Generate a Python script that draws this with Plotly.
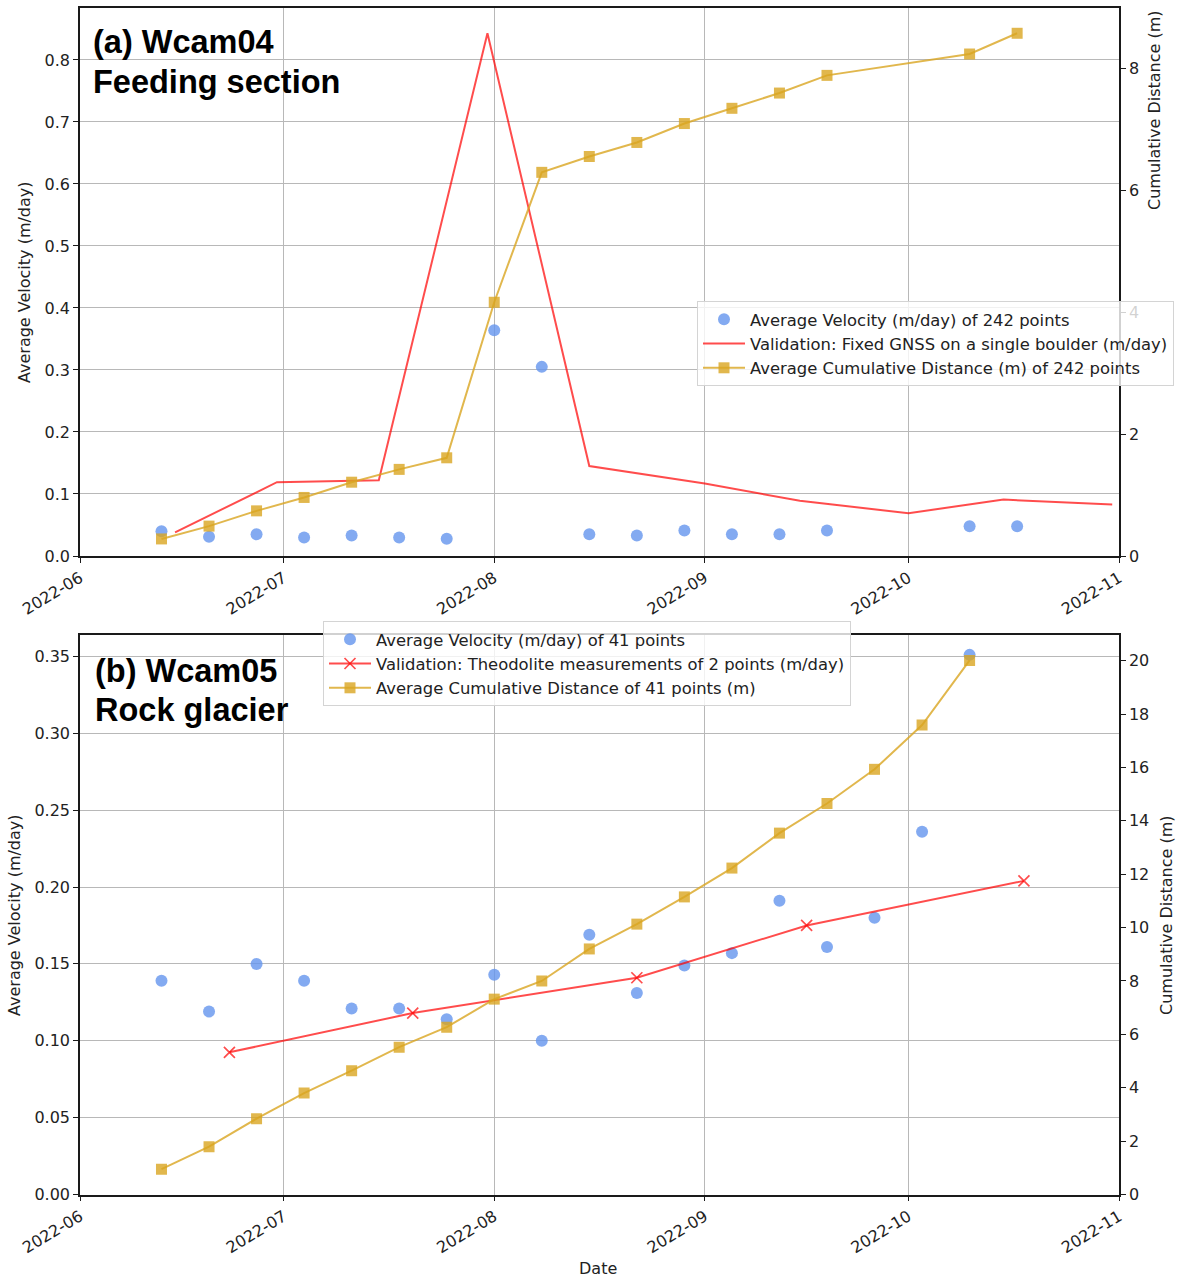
import plotly.graph_objects as go
from plotly.subplots import make_subplots

# ---------------- (a) Wcam04 feeding section ----------------
dates_a = ["2022-06-13", "2022-06-20", "2022-06-27", "2022-07-04", "2022-07-11",
           "2022-07-18", "2022-07-25", "2022-08-01", "2022-08-08", "2022-08-15",
           "2022-08-22", "2022-08-29", "2022-09-05", "2022-09-12", "2022-09-19",
           "2022-10-10", "2022-10-17"]
vel_a = [0.040, 0.031, 0.035, 0.030, 0.033, 0.030, 0.028, 0.364, 0.305, 0.035,
         0.033, 0.041, 0.035, 0.035, 0.041, 0.048, 0.048]
cum_a = [0.28, 0.49, 0.74, 0.96, 1.21, 1.42, 1.61, 4.16, 6.29, 6.55,
         6.78, 7.09, 7.34, 7.59, 7.88, 8.23, 8.57]
gnss_dates = ["2022-06-15", "2022-06-30", "2022-07-15", "2022-07-31", "2022-08-15",
              "2022-09-01", "2022-09-15", "2022-10-01", "2022-10-15", "2022-10-31"]
gnss_vel = [0.038, 0.119, 0.122, 0.843, 0.145, 0.117, 0.089, 0.069, 0.091, 0.083]

# ---------------- (b) Wcam05 rock glacier ----------------
dates_b = ["2022-06-13", "2022-06-20", "2022-06-27", "2022-07-04", "2022-07-11",
           "2022-07-18", "2022-07-25", "2022-08-01", "2022-08-08", "2022-08-15",
           "2022-08-22", "2022-08-29", "2022-09-05", "2022-09-12", "2022-09-19",
           "2022-09-26", "2022-10-03", "2022-10-10"]
vel_b = [0.139, 0.119, 0.150, 0.139, 0.121, 0.121, 0.114, 0.143, 0.100, 0.169,
         0.131, 0.149, 0.157, 0.191, 0.161, 0.180, 0.236, 0.351]
cum_b = [0.95, 1.79, 2.84, 3.80, 4.64, 5.52, 6.27, 7.32, 8.00, 9.20,
         10.13, 11.15, 12.23, 13.54, 14.65, 15.93, 17.59, 20.01]
theo_dates = ["2022-06-23", "2022-07-20", "2022-08-22", "2022-09-16", "2022-10-18"]
theo_vel = [0.0925, 0.118, 0.141, 0.175, 0.204]

month_ticks = ["2022-06-01", "2022-07-01", "2022-08-01", "2022-09-01",
               "2022-10-01", "2022-11-01"]

W, H = 1188, 1279
BLUE = "rgba(100,149,237,0.8)"
RED = "rgba(255,0,0,0.7)"
GOLD = "rgba(218,165,32,0.8)"
FONT = "DejaVu Sans"
GRID = "#b8b8b8"
SPINE = "#1a1a1a"
TICK_SIZE = 16


def auto_range(*series):
    vals = [v for s in series for v in s]
    lo, hi = min(vals), max(vals)
    return [0, hi + 0.05 * (hi - lo)]


def px_x(px):
    return px / W


def px_y(py):
    return 1 - py / H


fig = make_subplots(rows=2, cols=1,
                    specs=[[{"secondary_y": True}], [{"secondary_y": True}]])

# panel (a)
fig.add_trace(go.Scatter(x=dates_a, y=vel_a, mode="markers",
                         marker=dict(color=BLUE, size=12),
                         name="Average Velocity (m/day) of 242 points",
                         legend="legend"), row=1, col=1, secondary_y=False)
fig.add_trace(go.Scatter(x=gnss_dates, y=gnss_vel, mode="lines",
                         line=dict(color=RED, width=2),
                         name="Validation: Fixed GNSS on a single boulder (m/day)",
                         legend="legend"), row=1, col=1, secondary_y=False)
fig.add_trace(go.Scatter(x=dates_a, y=cum_a, mode="lines+markers",
                         line=dict(color=GOLD, width=2),
                         marker=dict(color=GOLD, size=11, symbol="square"),
                         name="Average Cumulative Distance (m) of 242 points",
                         legend="legend"), row=1, col=1, secondary_y=True)

# panel (b)
fig.add_trace(go.Scatter(x=dates_b, y=vel_b, mode="markers",
                         marker=dict(color=BLUE, size=12),
                         name="Average Velocity (m/day) of 41 points",
                         legend="legend2"), row=2, col=1, secondary_y=False)
fig.add_trace(go.Scatter(x=theo_dates, y=theo_vel, mode="lines+markers",
                         line=dict(color=RED, width=2),
                         marker=dict(symbol="x-thin", size=11,
                                     line=dict(color=RED, width=1.7)),
                         name="Validation: Theodolite measurements of 2 points (m/day)",
                         legend="legend2"), row=2, col=1, secondary_y=False)
fig.add_trace(go.Scatter(x=dates_b, y=cum_b, mode="lines+markers",
                         line=dict(color=GOLD, width=2),
                         marker=dict(color=GOLD, size=11, symbol="square"),
                         name="Average Cumulative Distance of 41 points (m)",
                         legend="legend2"), row=2, col=1, secondary_y=True)

x_dom = [px_x(80), px_x(1119)]
top_dom = [px_y(556), px_y(8)]
bot_dom = [px_y(1194.5), px_y(635)]

xcommon = dict(range=["2022-06-01", "2022-11-01"], tickvals=month_ticks,
               tickformat="%Y-%m", tickangle=-31, ticks="outside", ticklen=5,
               tickcolor=SPINE, showgrid=True, gridcolor=GRID, gridwidth=1,
               showline=True, linecolor=SPINE, linewidth=1.5, mirror=True,
               tickfont=dict(family=FONT, size=TICK_SIZE, color="#222"),
               domain=x_dom, zeroline=False, automargin=False)
ycommon = dict(ticks="outside", ticklen=5, tickcolor=SPINE, showgrid=True,
               gridcolor=GRID, gridwidth=1, showline=True, linecolor=SPINE,
               linewidth=1.5, zeroline=False, automargin=False,
               tickfont=dict(family=FONT, size=TICK_SIZE, color="#222"))
y2common = dict(ticks="outside", ticklen=5, tickcolor=SPINE, showgrid=False,
                showline=True, linecolor=SPINE, linewidth=1.5, zeroline=False,
                automargin=False,
                tickfont=dict(family=FONT, size=TICK_SIZE, color="#222"))

fig.update_layout(
    xaxis=dict(**xcommon, anchor="y"),
    xaxis2=dict(**xcommon, anchor="y3"),
    yaxis=dict(**ycommon, domain=top_dom, range=auto_range(vel_a, gnss_vel),
               tickvals=[0, 0.1, 0.2, 0.3, 0.4, 0.5, 0.6, 0.7, 0.8],
               tickformat=".1f"),
    yaxis2=dict(**y2common, range=auto_range(cum_a), tickvals=[0, 2, 4, 6, 8],
                overlaying="y", side="right", anchor="x"),
    yaxis3=dict(**ycommon, domain=bot_dom, range=auto_range(vel_b, theo_vel),
                tickvals=[0, 0.05, 0.10, 0.15, 0.20, 0.25, 0.30, 0.35],
                tickformat=".2f"),
    yaxis4=dict(**y2common, range=auto_range(cum_b),
                tickvals=list(range(0, 21, 2)),
                overlaying="y3", side="right", anchor="x2"),
)

legend_style = dict(bgcolor="rgba(255,255,255,0.8)", bordercolor="#d4d4d4",
                    borderwidth=1, font=dict(family=FONT, size=16.4, color="#222"),
                    xanchor="left", yanchor="top", tracegroupgap=0,
                    itemwidth=42)
fig.update_layout(
    legend=dict(**legend_style, x=px_x(697), y=px_y(301)),
    legend2=dict(**legend_style, x=px_x(323), y=px_y(621)),
)

annotations = []
# panel labels
for txt, px, py in [("(a) Wcam04", 91, 42), ("Feeding section", 91, 82),
                    ("(b) Wcam05", 93, 671), ("Rock glacier", 93, 710)]:
    annotations.append(dict(text=f"<b>{txt}</b>", xref="paper", yref="paper",
                            x=px_x(px), y=px_y(py), xanchor="left",
                            yanchor="middle", showarrow=False,
                            font=dict(family="Liberation Sans", size=32.5,
                                      color="black")))
# axis titles
for txt, px, py in [("Average Velocity (m/day)", 25, 282),
                    ("Average Velocity (m/day)", 14, 915),
                    ("Cumulative Distance (m)", 1154, 110),
                    ("Cumulative Distance (m)", 1166, 915)]:
    annotations.append(dict(text=txt, xref="paper", yref="paper",
                            x=px_x(px), y=px_y(py), xanchor="center",
                            yanchor="middle", textangle=-90, showarrow=False,
                            font=dict(family=FONT, size=16, color="#222")))
annotations.append(dict(text="Date", xref="paper", yref="paper",
                        x=px_x(598), y=px_y(1268), xanchor="center",
                        yanchor="middle", showarrow=False,
                        font=dict(family=FONT, size=16, color="#222")))

fig.update_layout(annotations=annotations, width=W, height=H,
                  margin=dict(l=0, r=0, t=0, b=0, autoexpand=False),
                  paper_bgcolor="white", plot_bgcolor="white",
                  showlegend=True)

fig.write_html("out.html")
